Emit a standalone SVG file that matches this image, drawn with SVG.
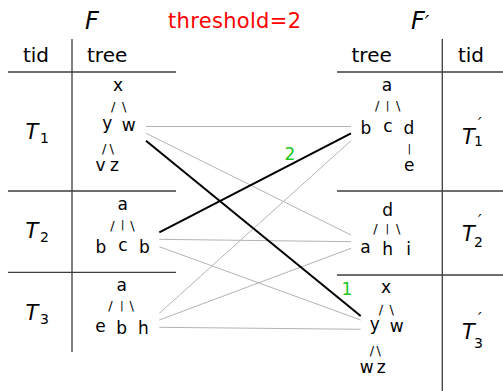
<svg xmlns="http://www.w3.org/2000/svg" width="503" height="391" viewBox="0 0 503 391">
<style>
text{font-family:"DejaVu Sans","Liberation Sans",sans-serif;fill:#000}
.t{font-size:17px;text-anchor:middle}
.s{font-size:13px;text-anchor:middle}
.bar{font-size:11px;text-anchor:middle}
.hd{font-size:20px}
.T{font-size:21px;font-style:italic}
.sub{font-size:14px;font-style:normal}
.pr{font-size:16px;font-style:italic}
.rule{stroke:#3c3c3c;stroke-width:1.3;fill:none}
.g{stroke:#b4b4b4;stroke-width:1;fill:none}
.k{stroke:#000;stroke-width:2;fill:none}
.num{font-size:17px;fill:#1ec81e;text-anchor:middle}
</style>

<g id="titles">
<text x="85" y="29" font-size="24" font-style="italic">F</text>
<text x="168" y="28" font-size="21" textLength="133" lengthAdjust="spacing" style="fill:#ff0000">threshold=2</text>
<text x="411" y="29" font-size="24" font-style="italic">F<tspan font-size="20">′</tspan></text>
</g>

<g id="table-F">
<line class="rule" x1="72" y1="39" x2="72" y2="352"/>
<line class="rule" x1="8" y1="72" x2="176" y2="72"/>
<line class="rule" x1="8" y1="191" x2="176" y2="191"/>
<line class="rule" x1="8" y1="272.3" x2="176" y2="272.3"/>
<text class="hd" x="36" y="62" text-anchor="middle">tid</text>
<text class="hd" x="87" y="62">tree</text>
<text class="T" x="25.5" y="139">T<tspan class="sub" x="40" y="142.5">1</tspan></text>
<text class="T" x="25.5" y="237.5">T<tspan class="sub" x="40" y="241.5">2</tspan></text>
<text class="T" x="25.5" y="319.5">T<tspan class="sub" x="40" y="324">3</tspan></text>
</g>

<g id="table-Fprime">
<line class="rule" x1="442.3" y1="39" x2="442.3" y2="391"/>
<line class="rule" x1="337" y1="72" x2="503" y2="72"/>
<line class="rule" x1="337" y1="191" x2="503" y2="191"/>
<line class="rule" x1="337" y1="275" x2="503" y2="275"/>
<text class="hd" x="351.5" y="62">tree</text>
<text class="hd" x="471" y="62" text-anchor="middle">tid</text>
<text class="T" x="462" y="143.5">T<tspan class="pr" x="478" y="128.5">′</tspan><tspan class="sub" x="474" y="145.5">1</tspan></text>
<text class="T" x="462" y="240.5">T<tspan class="pr" x="478" y="225.5">′</tspan><tspan class="sub" x="474" y="246.5">2</tspan></text>
<text class="T" x="462" y="339">T<tspan class="pr" x="478" y="324">′</tspan><tspan class="sub" x="474" y="348">3</tspan></text>
</g>

<g id="T1">
<text class="t" x="118" y="91">x</text>
<text class="s" x="113.3" y="110.6">/</text>
<text class="s" x="124.2" y="110.6">\</text>
<text class="t" x="107.2" y="129.4">y</text>
<text class="t" x="128.7" y="131.2">w</text>
<text class="s" x="104.3" y="152.5">/</text>
<text class="s" x="111.7" y="152.5">\</text>
<text class="t" x="100.5" y="171.4">v</text>
<text class="t" x="114.5" y="171.4">z</text>
</g>

<g id="T2">
<text class="t" x="122.8" y="210">a</text>
<text class="s" x="112.5" y="229.5">/</text>
<text class="bar" x="122.5" y="228.2">|</text>
<text class="s" x="132.5" y="229.5">\</text>
<text class="t" x="101" y="252.8">b</text>
<text class="t" x="123" y="251">c</text>
<text class="t" x="144.3" y="252.8">b</text>
</g>

<g id="T3">
<text class="t" x="121.7" y="290.7">a</text>
<text class="s" x="110.5" y="310">/</text>
<text class="bar" x="121.8" y="308.7">|</text>
<text class="s" x="131.8" y="310">\</text>
<text class="t" x="100.5" y="331.7">e</text>
<text class="t" x="121.7" y="333.5">b</text>
<text class="t" x="143.3" y="333.5">h</text>
</g>

<g id="T1p">
<text class="t" x="387" y="90.7">a</text>
<text class="s" x="377.2" y="110.4">/</text>
<text class="bar" x="387.7" y="109.1">|</text>
<text class="s" x="398.2" y="110.4">\</text>
<text class="t" x="366" y="133.5">b</text>
<text class="t" x="388" y="131.7">c</text>
<text class="t" x="409" y="133.5">d</text>
<text class="bar" x="409.3" y="151.5">|</text>
<text class="t" x="409.3" y="171">e</text>
</g>

<g id="T2p">
<text class="t" x="387.7" y="216.2">d</text>
<text class="s" x="375.5" y="233.2">/</text>
<text class="bar" x="387.3" y="231.9">|</text>
<text class="s" x="398.3" y="233.2">\</text>
<text class="t" x="365.5" y="252.7">a</text>
<text class="t" x="387.7" y="254.5">h</text>
<text class="t" x="408.7" y="254.5">i</text>
</g>

<g id="T3p">
<text class="t" x="386" y="293">x</text>
<text class="s" x="381" y="313.9">/</text>
<text class="s" x="391.7" y="313.9">\</text>
<text class="t" x="374.7" y="330.4">y</text>
<text class="t" x="396.7" y="332.2">w</text>
<text class="s" x="372" y="355">/</text>
<text class="s" x="378.7" y="355">\</text>
<text class="t" x="366.8" y="373">w</text>
<text class="t" x="381.3" y="373">z</text>
</g>

<g id="connectors">
<line class="g" x1="146" y1="126.5" x2="351" y2="126.5"/>
<line class="g" x1="146" y1="133.3" x2="351" y2="235"/>
<line class="g" x1="159.3" y1="239.3" x2="351" y2="241.7"/>
<line class="g" x1="159.3" y1="246.7" x2="360.7" y2="320"/>
<line class="g" x1="159.3" y1="313.3" x2="351" y2="140.7"/>
<line class="g" x1="159.3" y1="320" x2="351" y2="248.3"/>
<line class="g" x1="159.3" y1="327.3" x2="360.7" y2="329.3"/>
<line class="k" x1="146" y1="140.7" x2="360.7" y2="316"/>
<line class="k" x1="159.3" y1="232.3" x2="351" y2="133.3"/>
</g>

<g id="labels">
<text class="num" x="290" y="160">2</text>
<text class="num" x="347" y="295">1</text>
</g>
</svg>
